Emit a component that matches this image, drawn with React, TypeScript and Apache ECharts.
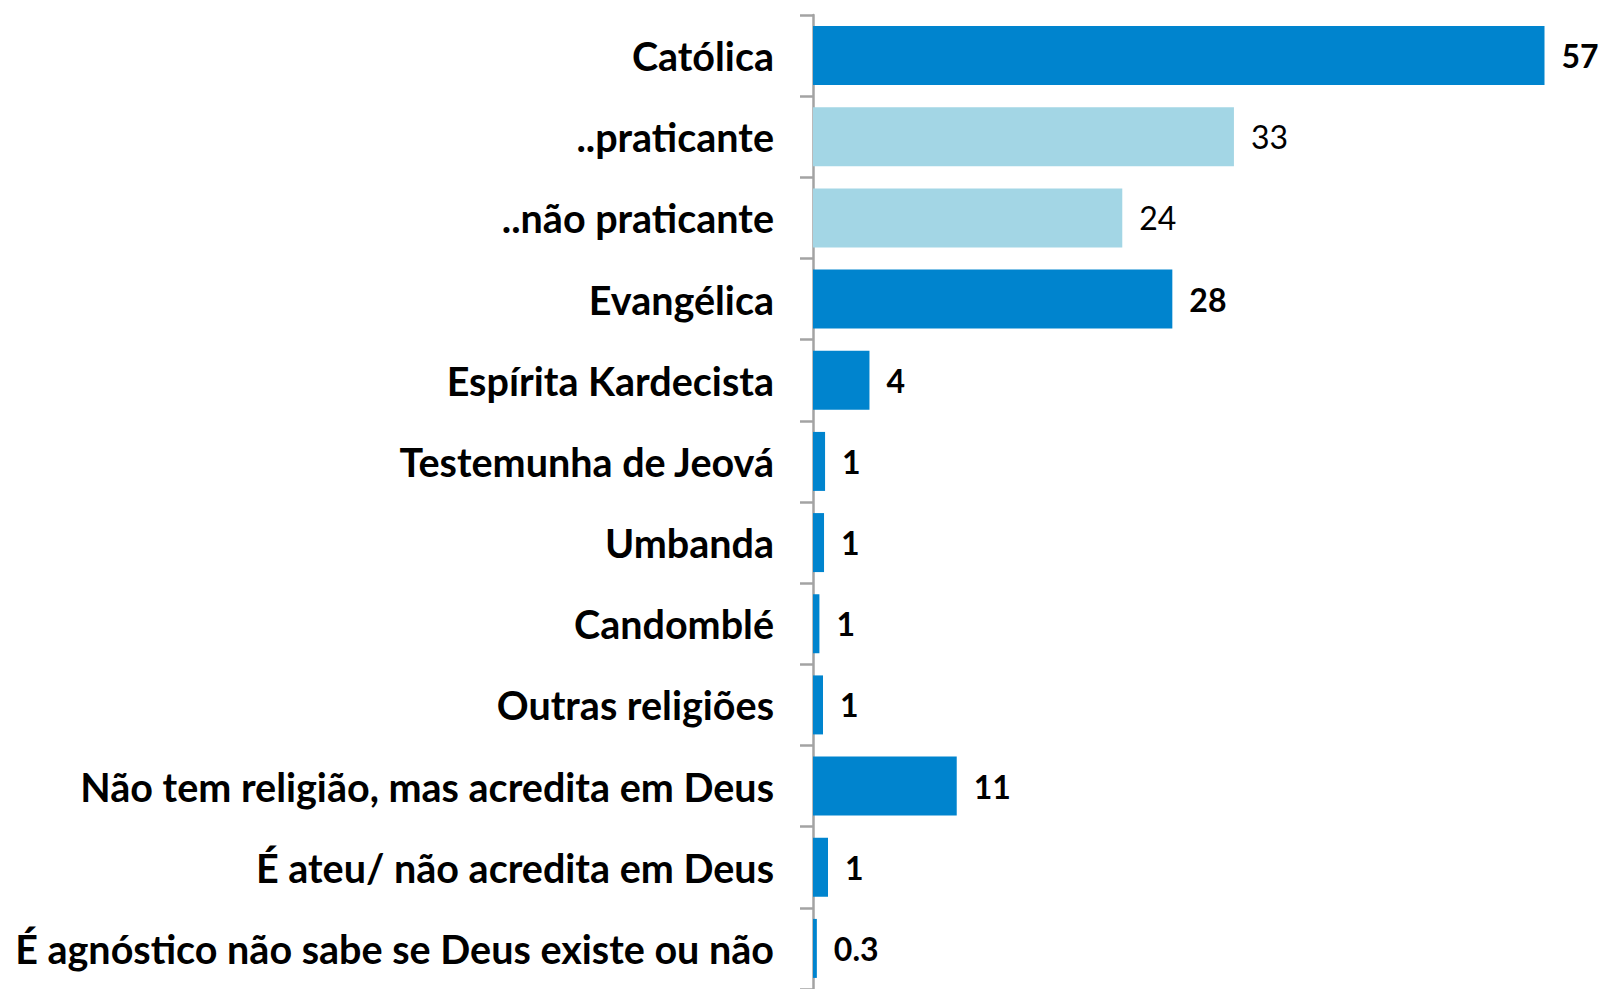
import React, { useEffect, useRef } from "react";
import * as echarts from "echarts";

const categories = [
  "Católica",
  "..praticante",
  "..não praticante",
  "Evangélica",
  "Espírita Kardecista",
  "Testemunha de Jeová",
  "Umbanda",
  "Candomblé",
  "Outras religiões",
  "Não tem religião, mas acredita em Deus",
  "É ateu/ não acredita em Deus",
  "É agnóstico não sabe se Deus existe ou não",
];
const values = [57, 32.8, 24.1, 28, 4.4, 0.94, 0.86, 0.5, 0.78, 11.2, 1.17, 0.3];
const valueLabels = ["57", "33", "24", "28", "4", "1", "1", "1", "1", "11", "1", "0.3"];
const isSub = [false, true, true, false, false, false, false, false, false, false, false, false];

const DARK = "#0084CE";
const LIGHT = "#A3D6E5";
const FONT = "Lato";

export default function App() {
  const ref = useRef<HTMLDivElement>(null);
  useEffect(() => {
    document.body.style.margin = "0";
    const chart = echarts.init(ref.current!, null, { renderer: "svg" });
    chart.setOption({
      animation: false,
      backgroundColor: "#ffffff",
      grid: { left: 813, top: 15, width: 770, height: 978, containLabel: false },
      xAxis: {
        type: "value",
        min: 0,
        max: 60,
        show: false,
        splitLine: { show: false },
      },
      yAxis: {
        type: "category",
        inverse: true,
        data: categories,
        axisLine: { show: true, lineStyle: { color: "#A3A3A3", width: 2.5 } },
        axisTick: { show: true, length: 13, lineStyle: { color: "#A3A3A3", width: 2.5 } },
        axisLabel: {
          margin: 39,
          color: "#000000",
          fontFamily: FONT,
          fontWeight: "bold",
          fontSize: 39.5,
          padding: [6, 0, 0, 0],
        },
      },
      series: [
        {
          type: "bar",
          barWidth: 59,
          data: values.map((v, i) => ({
            value: v,
            itemStyle: { color: isSub[i] ? LIGHT : DARK },
            label: {
              show: true,
              position: "right",
              distance: 17,
              formatter: valueLabels[i],
              color: "#000000",
              fontFamily: FONT,
              fontSize: 32,
              fontWeight: isSub[i] ? "normal" : "bold",
              padding: [4, 0, 0, 0],
            },
          })),
        },
      ],
    });
    return () => chart.dispose();
  }, []);
  return <div ref={ref} style={{ width: 1603, height: 989 }} />;
}
